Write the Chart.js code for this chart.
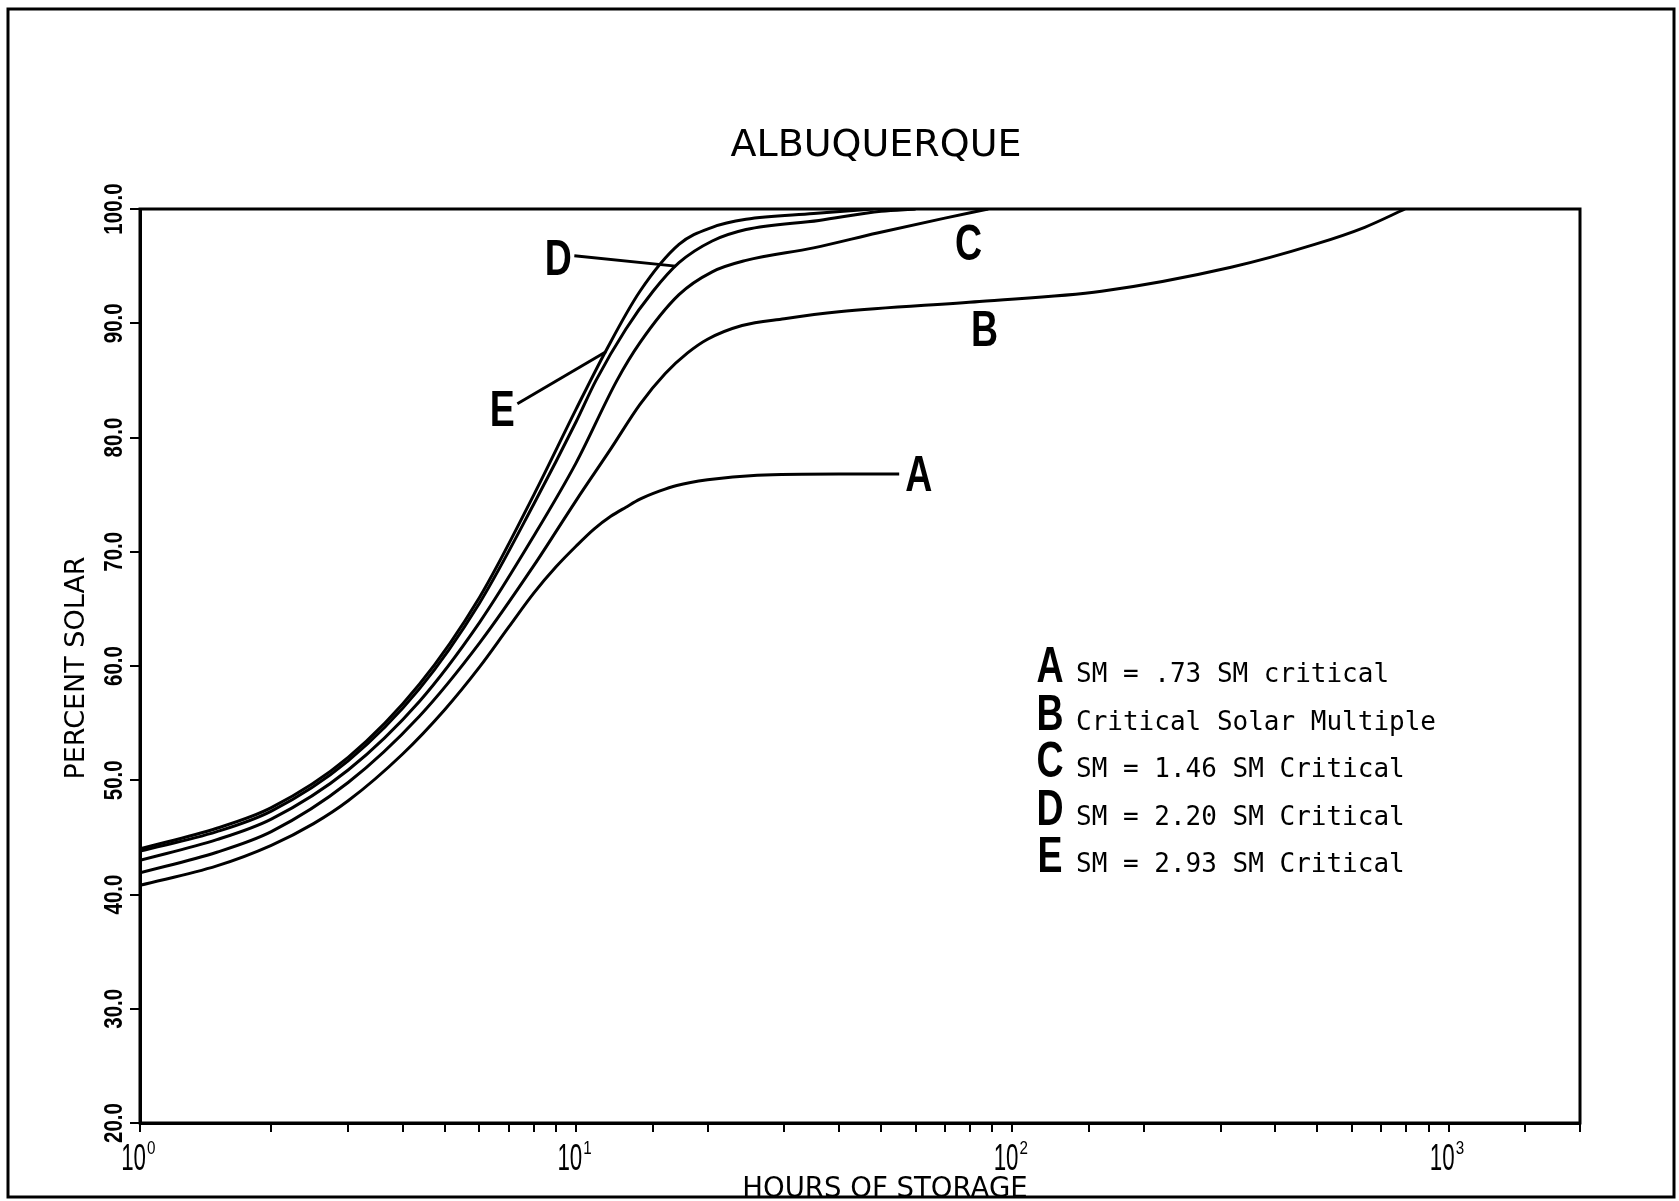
<!DOCTYPE html>
<html>
<head>
<meta charset="utf-8">
<title>Albuquerque</title>
<script src="https://cdn.jsdelivr.net/npm/chart.js@4.4.1/dist/chart.umd.min.js"></script>
<style>
  html, body { margin: 0; padding: 0; background: #fff; }
  canvas { display: block; }
</style>
</head>
<body>
<canvas id="solarChart" width="1679" height="1201"></canvas>
<script>
// Percent solar vs. hours of storage, one curve per solar multiple
const hoursA = [1, 1.5, 2, 2.5, 3, 4, 5, 6, 7, 8, 9, 10, 11, 12, 13, 14, 15.5, 17, 20, 26, 40, 55];
const solarA = [40.8, 42.5, 44.3, 46.2, 48.2, 52.3, 56.2, 59.9, 63.4, 66.4, 68.7, 70.5, 72.0, 73.1, 73.9, 74.6, 75.3, 75.8, 76.3, 76.7, 76.8, 76.8];

const hoursB = [1, 1.5, 2, 3, 4.37, 6, 8, 10, 12, 14, 16, 18, 20, 24, 30, 40, 84, 160, 317, 493, 642, 794];
const solarB = [41.9, 43.7, 45.5, 49.8, 55.6, 62.0, 68.8, 74.5, 79.0, 82.9, 85.6, 87.4, 88.6, 89.8, 90.4, 91.0, 91.9, 92.8, 94.9, 96.9, 98.4, 100];

const hoursC = [1, 1.5, 2, 3, 4.37, 6, 8, 10, 12.4, 14, 17.2, 20.5, 24.5, 35, 49, 70, 88];
const solarC = [43.0, 44.8, 46.6, 50.9, 56.9, 63.8, 71.4, 77.8, 85.0, 88.3, 92.5, 94.5, 95.5, 96.6, 97.9, 99.2, 100];

const hoursD = [1, 1.5, 2, 3, 4.37, 6, 8, 10, 11.1, 13, 15, 17.2, 20.5, 24.5, 36, 50, 60];
const solarD = [43.8, 45.5, 47.3, 51.7, 58.0, 65.5, 74.2, 81.4, 85.0, 89.5, 92.8, 95.3, 97.2, 98.2, 99.0, 99.8, 100];

const hoursE = [1, 1.5, 2, 3, 4.37, 6, 8, 10, 11.7, 14, 17.2, 20.5, 24.5, 35, 48];
const solarE = [44.0, 45.8, 47.6, 52.0, 58.4, 66.0, 75.0, 82.5, 87.6, 92.8, 96.9, 98.4, 99.1, 99.6, 100];

// leader lines from the curve letters to their curves (hours, percent)
const leaderD = [[9.9, 95.9], [16.9, 95.0]];
const leaderE = [[7.33, 82.95], [11.7, 87.5]];

// curve letters placed in data units
const curveLabels = [
  { text: 'A', x: 61, y: 76.7 },
  { text: 'B', x: 86.3, y: 89.4 },
  { text: 'C', x: 79.3, y: 96.9 },
  { text: 'D', x: 9.1, y: 95.6 },
  { text: 'E', x: 6.77, y: 82.4 }
];

const yTicks = [20, 30, 40, 50, 60, 70, 80, 90, 100];
const xDecades = [0, 1, 2, 3];

const legendLetters = ['A', 'B', 'C', 'D', 'E'];
const legendTexts = [
  'SM = .73 SM critical',
  'Critical Solar Multiple',
  'SM = 1.46 SM Critical',
  'SM = 2.20 SM Critical',
  'SM = 2.93 SM Critical'
];

const toPoints = (xs, ys) => xs.map((x, i) => ({ x: x, y: ys[i] }));
const pairPoints = pts => pts.map(p => ({ x: p[0], y: p[1] }));

const curveStyle = {
  borderColor: '#000',
  borderWidth: 3,
  pointRadius: 0,
  fill: false,
  cubicInterpolationMode: 'monotone'
};
const leaderStyle = {
  borderColor: '#000',
  borderWidth: 3,
  pointRadius: 0,
  fill: false,
  tension: 0
};

// squeeze text horizontally to get a condensed face
function narrowText(ctx, text, x, y, font, squeeze, align) {
  ctx.save();
  ctx.translate(x, y);
  ctx.scale(squeeze, 1);
  ctx.font = font;
  ctx.textAlign = align || 'center';
  ctx.fillText(text, 0, 0);
  ctx.restore();
}

const decorations = {
  id: 'decorations',
  afterDraw(chart) {
    const { ctx, chartArea: a, scales: { x, y } } = chart;
    ctx.save();
    ctx.strokeStyle = '#000';
    ctx.fillStyle = '#000';

    // plot box and page frame
    ctx.lineWidth = 3;
    ctx.strokeRect(a.left, a.top, a.right - a.left, a.bottom - a.top);
    ctx.strokeRect(8, 9, 1666, 1188);

    ctx.textAlign = 'center';
    ctx.textBaseline = 'middle';

    ctx.font = '38px "DejaVu Sans"';
    ctx.fillText('ALBUQUERQUE', 876, 146);

    narrowText(ctx, 'HOURS OF STORAGE', 885, 1189, '29px "DejaVu Sans"', 0.95);

    ctx.save();
    ctx.translate(77, 668);
    ctx.rotate(-Math.PI / 2);
    ctx.font = '27px "DejaVu Sans"';
    ctx.fillText('PERCENT SOLAR', 0, 0);
    ctx.restore();

    // y tick labels run up the axis
    yTicks.forEach(v => {
      ctx.save();
      ctx.translate(113, y.getPixelForValue(v));
      ctx.rotate(-Math.PI / 2);
      narrowText(ctx, v.toFixed(1), 0, 2, 'bold 25px "Liberation Sans"', 0.82);
      ctx.restore();
    });

    // decade labels 10^n
    ctx.textBaseline = 'alphabetic';
    xDecades.forEach(e => {
      const px = x.getPixelForValue(Math.pow(10, e));
      narrowText(ctx, '10', px + 6, 1170, '36px "Liberation Sans"', 0.62, 'right');
      narrowText(ctx, String(e), px + 7, 1154, '19px "Liberation Sans"', 0.8, 'left');
    });

    // curve letters
    ctx.textBaseline = 'middle';
    curveLabels.forEach(l => {
      narrowText(ctx, l.text, x.getPixelForValue(l.x), y.getPixelForValue(l.y) + 2,
        'bold 50px "Liberation Sans"', 0.75);
    });

    // key
    ctx.textBaseline = 'alphabetic';
    legendLetters.forEach((letter, i) => {
      const base = 682 + i * 47.5;
      narrowText(ctx, letter, 1050, base, 'bold 50px "Liberation Sans"', 0.75);
      ctx.font = '26px "DejaVu Sans Mono"';
      ctx.textAlign = 'left';
      ctx.fillText(legendTexts[i], 1076, base);
    });
    ctx.restore();
  }
};

new Chart(document.getElementById('solarChart').getContext('2d'), {
  type: 'line',
  data: {
    datasets: [
      { label: 'A', data: toPoints(hoursA, solarA), ...curveStyle },
      { label: 'B', data: toPoints(hoursB, solarB), ...curveStyle },
      { label: 'C', data: toPoints(hoursC, solarC), ...curveStyle },
      { label: 'D', data: toPoints(hoursD, solarD), ...curveStyle },
      { label: 'E', data: toPoints(hoursE, solarE), ...curveStyle },
      { label: 'D leader', data: pairPoints(leaderD), ...leaderStyle },
      { label: 'E leader', data: pairPoints(leaderE), ...leaderStyle }
    ]
  },
  options: {
    responsive: false,
    animation: false,
    devicePixelRatio: 1,
    layout: { padding: { top: 209, right: 99, left: 0, bottom: 0 } },
    plugins: {
      legend: { display: false },
      tooltip: { enabled: false },
      title: { display: false }
    },
    scales: {
      x: {
        type: 'logarithmic',
        min: 1,
        max: 2000,
        border: { display: true, color: '#000', width: 3 },
        grid: { drawOnChartArea: false, drawTicks: true, tickLength: 9, color: '#000', lineWidth: 2 },
        ticks: { autoSkip: false, maxRotation: 0, color: '#000', callback: () => '' },
        afterFit: scale => { scale.height = 78; }
      },
      y: {
        min: 20,
        max: 100,
        border: { display: true, color: '#000', width: 3 },
        grid: { drawOnChartArea: false, drawTicks: true, tickLength: 10, color: '#000', lineWidth: 2 },
        ticks: { stepSize: 10, color: 'rgba(0,0,0,0)' },
        afterFit: scale => { scale.width = 140; }
      }
    }
  },
  plugins: [decorations]
});
</script>
</body>
</html>
